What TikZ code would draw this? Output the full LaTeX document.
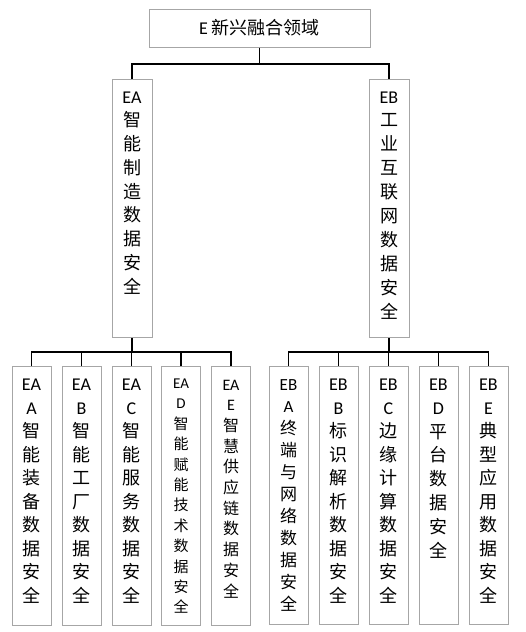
\documentclass[tikz,border=0pt]{standalone}
\usepackage{fontspec}
\setmainfont{Noto Sans CJK SC}
\newfontfamily\latf{Carlito}
\newcommand\lt[1]{{\latf #1}}
% #1 box height, #2 font size, #3 line pitch, #4 first baseline, #5 lines
\newcommand\vtext[5]{\parbox[c][#1][t]{38pt}{\centering\fontsize{#2}{#3}\selectfont\rule{0pt}{#4}#5\par}}
\definecolor{boxgray}{HTML}{A6A6A6}
\tikzset{
  box/.style={draw=boxgray, line width=1pt, inner sep=0pt, fill=white, minimum width=39pt, anchor=north},
  link/.style={draw=black, line width=1.4pt}
}
\begin{document}
\begin{tikzpicture}[x=1pt,y=-1pt]
\useasboundingbox (0,0) rectangle (525,632);
\fill[white] (0,0) rectangle (525,632);
% top
\node[draw=boxgray, line width=1pt, minimum width=221pt, minimum height=38pt, inner sep=0pt, font=\fontsize{18}{20}\selectfont] (top) at (259.5,28) {\lt{E} 新兴融合领域};
% level 2
\node[box, minimum width=40pt] (EA) at (132,79) {\vtext{258pt}{18}{23.75}{23.5pt}{\lt{EA}\\智\\能\\制\\造\\数\\据\\安\\全}};
\node[box, minimum width=40pt] (EB) at (389,79) {\vtext{258pt}{18}{23.9}{23.5pt}{\lt{EB}\\工\\业\\互\\联\\网\\数\\据\\安\\全}};
% level 3 - A
\node[box] (A1) at (31.5,366) {\vtext{259pt}{18}{23.5}{24pt}{\lt{EA}\\\lt{A}\\智\\能\\装\\备\\数\\据\\安\\全}};
\node[box] (A2) at (81.5,366) {\vtext{259pt}{18}{23.5}{24pt}{\lt{EA}\\\lt{B}\\智\\能\\工\\厂\\数\\据\\安\\全}};
\node[box] (A3) at (131.5,366) {\vtext{259pt}{18}{23.5}{24pt}{\lt{EA}\\\lt{C}\\智\\能\\服\\务\\数\\据\\安\\全}};
\node[box] (A4) at (181,366) {\vtext{259pt}{15}{20.4}{22pt}{\lt{EA}\\\lt{D}\\智\\能\\赋\\能\\技\\术\\数\\据\\安\\全}};
\node[box] (A5) at (231,366) {\vtext{259pt}{16}{20.7}{23.5pt}{\lt{EA}\\\lt{E}\\智\\慧\\供\\应\\链\\数\\据\\安\\全}};
% level 3 - B
\node[box] (B1) at (288.5,366) {\vtext{258pt}{17}{22}{23.5pt}{\lt{EB}\\\lt{A}\\终\\端\\与\\网\\络\\数\\据\\安\\全}};
\node[box] (B2) at (338.5,366) {\vtext{258pt}{18}{23.5}{24pt}{\lt{EB}\\\lt{B}\\标\\识\\解\\析\\数\\据\\安\\全}};
\node[box] (B3) at (388.5,366) {\vtext{258pt}{18}{23.5}{24pt}{\lt{EB}\\\lt{C}\\边\\缘\\计\\算\\数\\据\\安\\全}};
\node[box] (B4) at (438.5,366) {\vtext{258pt}{18}{23.8}{24pt}{\lt{EB}\\\lt{D}\\平\\台\\数\\据\\安\\全}};
\node[box] (B5) at (488.5,366) {\vtext{258pt}{18}{23.5}{24pt}{\lt{EB}\\\lt{E}\\典\\型\\应\\用\\数\\据\\安\\全}};
% junctions
\coordinate (j1) at (259.5,64);
\coordinate (ja) at (132,352);
\coordinate (jb) at (389,352);
% connectors
\draw[link] (top.south) -- (j1);
\draw[link] (EA.north) |- (j1) -| (EB.north);
\draw[link] (EA.south) -- (ja);
\draw[link] (A1.north) |- (ja) -| (A5.north);
\draw[link] (A2.north) -- (A2.north |- ja);
\draw[link] (A3.north) -- (A3.north |- ja);
\draw[link] (A4.north) -- (A4.north |- ja);
\draw[link] (EB.south) -- (jb);
\draw[link] (B1.north) |- (jb) -| (B5.north);
\draw[link] (B2.north) -- (B2.north |- jb);
\draw[link] (B3.north) -- (B3.north |- jb);
\draw[link] (B4.north) -- (B4.north |- jb);
\end{tikzpicture}
\end{document}
